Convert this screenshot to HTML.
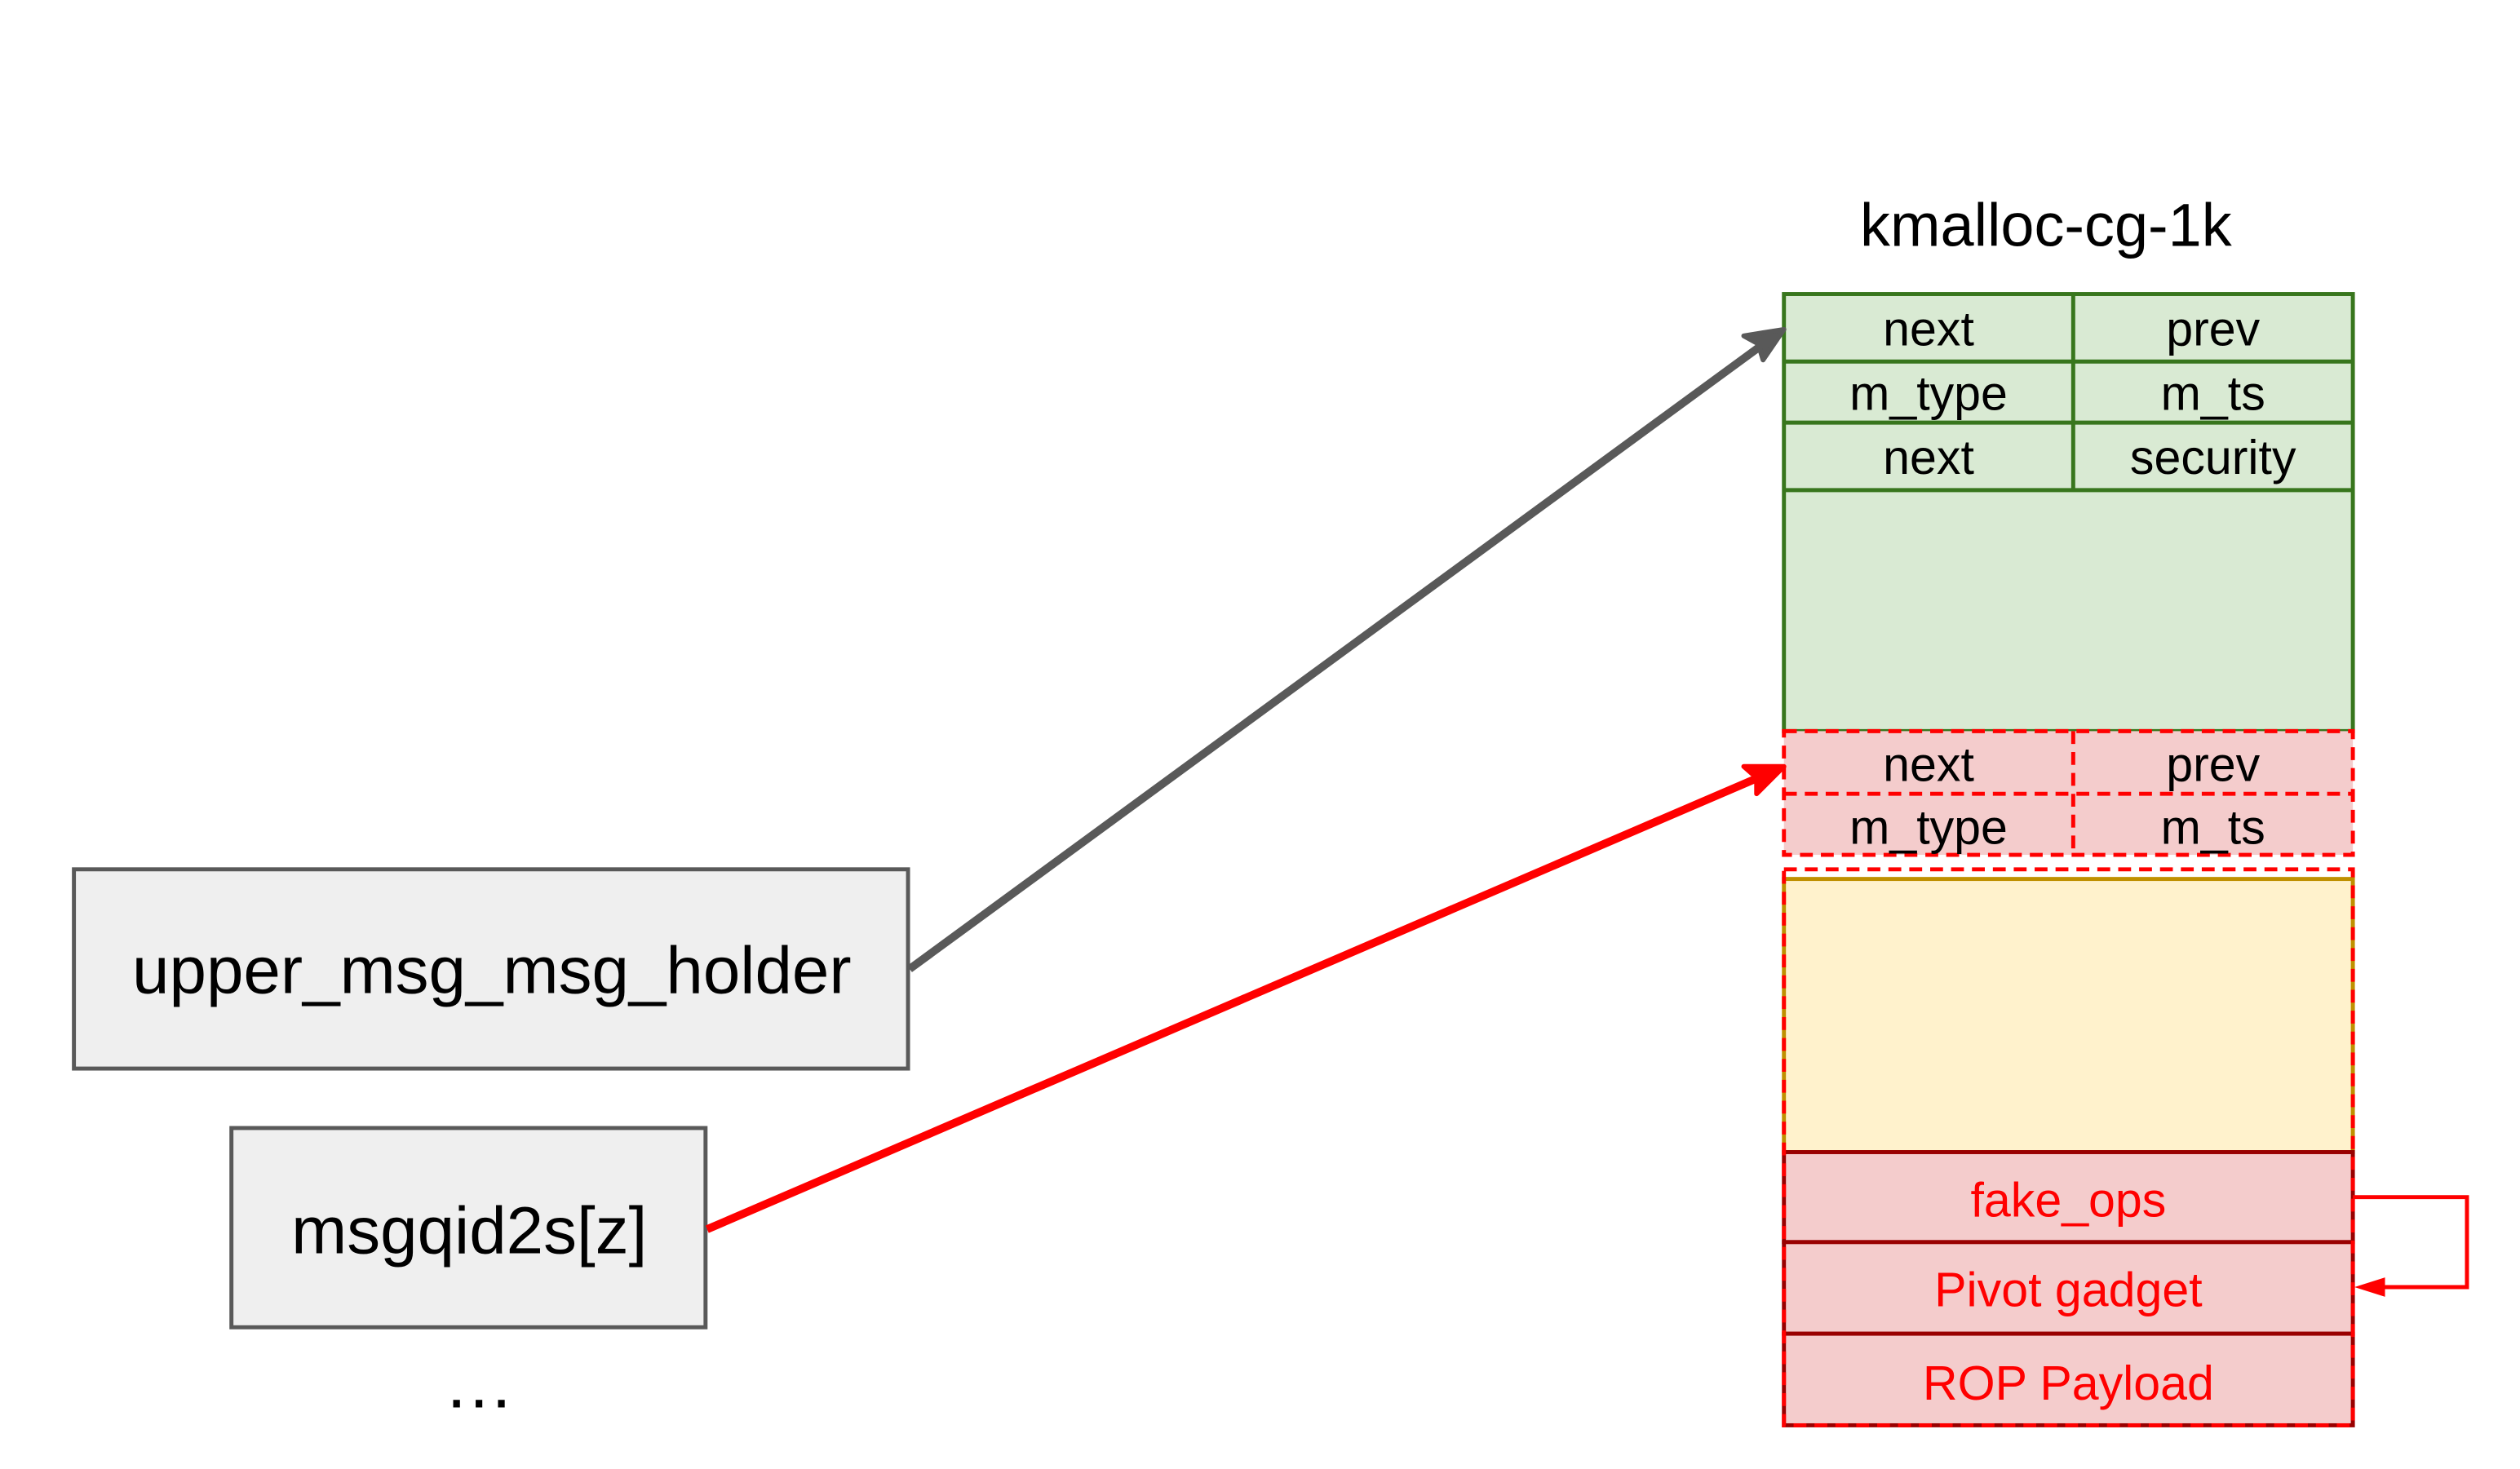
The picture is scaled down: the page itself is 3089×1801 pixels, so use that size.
<!DOCTYPE html>
<html><head><style>html,body{margin:0;padding:0;background:#fff}svg{display:block}</style></head>
<body>
<svg width="3089" height="1801" viewBox="0 0 1568 914.2" preserveAspectRatio="none" xmlns="http://www.w3.org/2000/svg" font-family="Liberation Sans, Arial, sans-serif">
<text x="1273" y="153" font-size="37.5" text-anchor="middle" fill="#000">kmalloc-cg-1k</text>
<!-- green -->
<rect x="1110" y="183" width="354" height="272" fill="#d9ead3" stroke="#38761d" stroke-width="2.5"/>
<g stroke="#38761d" stroke-width="2.5">
<line x1="1110" y1="225" x2="1464" y2="225"/><line x1="1110" y1="263" x2="1464" y2="263"/><line x1="1110" y1="305" x2="1464" y2="305"/>
<line x1="1290" y1="183" x2="1290" y2="305"/>
</g>
<g font-size="30" text-anchor="middle" fill="#000">
<text x="1200" y="215">next</text><text x="1377" y="215">prev</text>
<text x="1200" y="255">m_type</text><text x="1377" y="255">m_ts</text>
<text x="1200" y="295">next</text><text x="1377" y="295">security</text>
</g>
<!-- red dashed header -->
<rect x="1110" y="455" width="354" height="77" fill="#f4cccc"/>
<g stroke="#ff0000" stroke-width="2.5" stroke-dasharray="8,5" fill="none">
<rect x="1110" y="455" width="354" height="77"/>
<line x1="1110" y1="494" x2="1464" y2="494"/><line x1="1290" y1="455" x2="1290" y2="532"/>
</g>
<g font-size="30" text-anchor="middle" fill="#000">
<text x="1200" y="486">next</text><text x="1377" y="486">prev</text>
<text x="1200" y="525">m_type</text><text x="1377" y="525">m_ts</text>
</g>
<!-- yellow -->
<rect x="1110" y="547" width="354" height="170" fill="#fff2cc" stroke="#bf9000" stroke-width="2.5"/>
<!-- red blocks -->
<g fill="#f4cccc" stroke="#990000" stroke-width="2.5">
<rect x="1110" y="717" width="354" height="56"/><rect x="1110" y="773" width="354" height="57"/><rect x="1110" y="830" width="354" height="57"/>
</g>
<rect x="1110" y="541" width="354" height="346" fill="none" stroke="#ff0000" stroke-width="2.5" stroke-dasharray="8,5"/>
<g font-size="30" text-anchor="middle" fill="#ff0000">
<text x="1287" y="757">fake_ops</text><text x="1287" y="813">Pivot gadget</text><text x="1287" y="871">ROP Payload</text>
</g>
<polyline points="1464,745 1535,745 1535,801 1478,801" fill="none" stroke="#ff0000" stroke-width="2.5"/>
<path d="M1465,801 L1484,795 L1484,807 Z" fill="#ff0000"/>
<!-- left boxes -->
<rect x="46" y="541" width="519" height="124" fill="#efefef" stroke="#595959" stroke-width="2.5"/>
<text x="306" y="618" font-size="41.5" text-anchor="middle" fill="#000">upper_msg_msg_holder</text>
<rect x="144" y="702" width="295" height="124" fill="#efefef" stroke="#595959" stroke-width="2.5"/>
<text x="292" y="780" font-size="41.5" text-anchor="middle" fill="#000">msgqid2s[z]</text>
<text x="298" y="876" font-size="44" text-anchor="middle" fill="#000">…</text>
<!-- arrows -->
<line x1="566" y1="603" x2="1096" y2="215" stroke="#595959" stroke-width="5"/>
<path d="M1110,205 L1085,209 L1094,214 L1097,224 Z" fill="#595959" stroke="#595959" stroke-width="3" stroke-linejoin="round"/>
<line x1="440" y1="765" x2="1094" y2="484" stroke="#ff0000" stroke-width="5"/>
<path d="M1110,477 L1085,477 L1093,484 L1093,494 Z" fill="#ff0000" stroke="#ff0000" stroke-width="3" stroke-linejoin="round"/>
</svg>
</body></html>
